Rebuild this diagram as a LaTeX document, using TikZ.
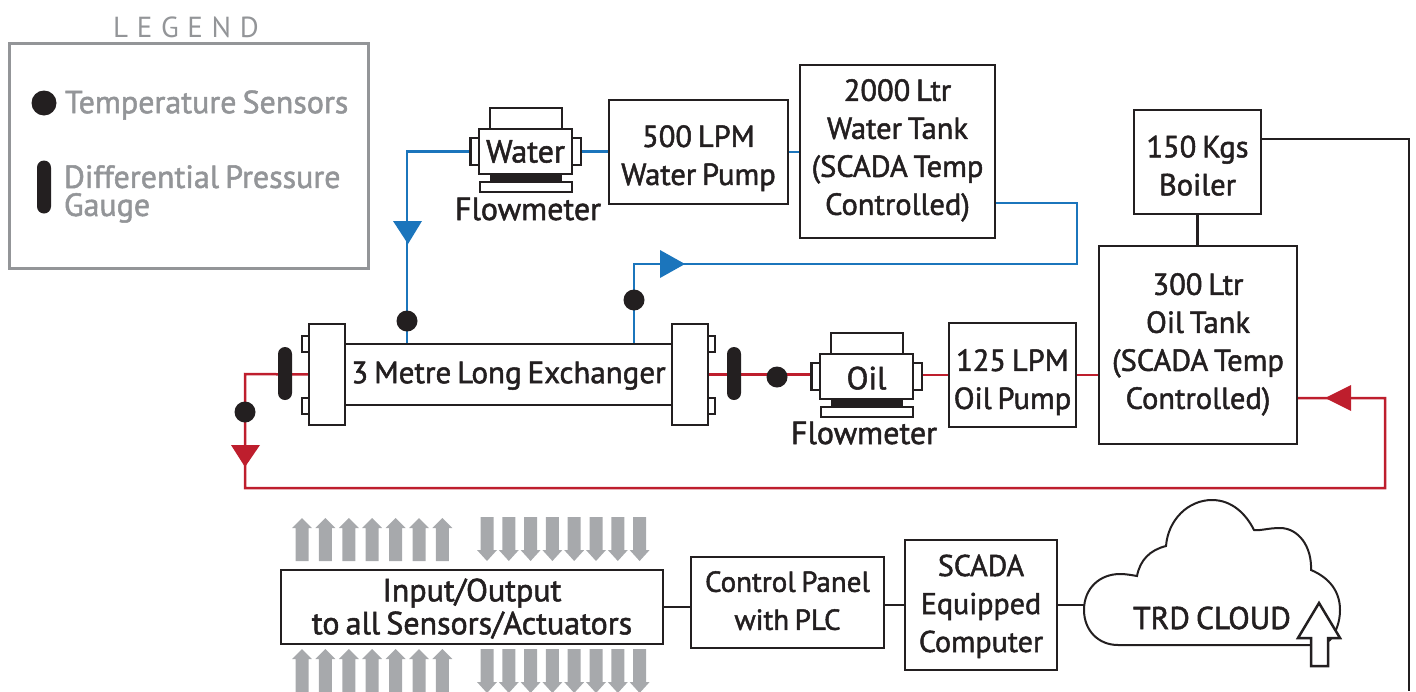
\documentclass[tikz,border=0pt]{standalone}
\usepackage{fontspec}
\setmainfont{PT Sans}[AutoFakeBold=1.6,WordSpace=0.72]
\newcommand{\tup}[1]{\rule{0pt}{#1pt}}
\newcommand{\tdn}[1]{\rule[-#1pt]{0pt}{0pt}}
\usetikzlibrary{backgrounds}
\definecolor{ink}{HTML}{231F20}
\definecolor{bluel}{HTML}{1B75BC}
\definecolor{redl}{HTML}{BE1E2D}
\definecolor{legendgrey}{HTML}{939598}
\definecolor{arrowgrey}{HTML}{A7A9AC}
\tikzset{
  x=1pt,y=-1pt,
  box/.style={draw=ink,line width=2.5pt,fill=white,inner sep=0pt,outer sep=0pt,align=center,text=ink,font=\fontsize{30.5}{38}\bfseries\selectfont},
  plain/.style={draw=ink,line width=2.5pt,fill=white,inner sep=0pt,outer sep=0pt},
  band/.style={fill=ink,inner sep=0pt,outer sep=0pt},
  dot/.style={circle,fill=ink,inner sep=0pt,outer sep=0pt,minimum size=#1},
  gauge/.style={fill=ink,inner sep=0pt,outer sep=0pt,rounded corners=7pt,minimum width=14pt,minimum height=53pt},
  lbl/.style={inner sep=0pt,outer sep=0pt,text=ink,font=\fontsize{32}{38}\bfseries\selectfont},
  legendtext/.style={inner sep=0pt,outer sep=0pt,anchor=west,align=left,text=legendgrey,font=\fontsize{32}{28}\bfseries\selectfont},
  blueline/.style={draw=bluel,line width=2.5pt},
  redline/.style={draw=redl,line width=2.5pt},
  inkline/.style={draw=ink,line width=2.5pt},
  uparrowg/.pic={\fill[arrowgrey] (-6.5,43)--(-6.5,10)--(-10,10)--(0,0)--(10,10)--(6.5,10)--(6.5,43)--cycle;},
  downarrowg/.pic={\fill[arrowgrey] (-6.5,0)--(-6.5,33)--(-10,33)--(0,44)--(10,33)--(6.5,33)--(6.5,0)--cycle;},
}
\begin{document}
\begin{tikzpicture}
\useasboundingbox (0,0) rectangle (1416,691);
% legend
\node[draw=legendgrey,line width=3pt,inner sep=0pt,outer sep=0pt,minimum width=359pt,minimum height=225pt] (legend) at (188.5,155.5) {};
\node[inner sep=0pt,text=legendgrey,font=\fontsize{29}{30}\selectfont\addfontfeature{LetterSpace=30}] (legendtitle) at (186,27) {LEGEND};
\node[dot=25pt] (ldot) at (44,103) {};
\node[legendtext] (ltemp) at (65,105) {Temperature Sensors};
\node[gauge] (lgauge) at (44,187) {};
\node[legendtext] (lgaugetext) at (64,194) {Differential Pressure\\Gauge};
% exchanger
\node[box,font=\fontsize{31}{38}\bfseries\selectfont,minimum width=327pt,minimum height=61pt] (exch) at (508.5,374.5) {\tup{24}3 Metre Long Exchanger};
\node[plain,minimum width=36pt,minimum height=101pt] (fl) at (327,374.5) {};
\node[plain,minimum width=36pt,minimum height=101pt] (fr) at (690,374.5) {};
\foreach \n/\px/\py in {lla/305.5/344,llb/305.5/406,lra/711.5/344,lrb/711.5/406}
  \node[plain,minimum width=7pt,minimum height=16pt] (\n) at (\px,\py) {};
\node[gauge] (gl) at (285,373.5) {};
\node[gauge] (gr) at (734,373.5) {};
\node[dot=21pt] (dt1) at (407,321) {};
\node[dot=21pt] (dt2) at (245,412) {};
\node[dot=21pt] (dt3) at (634,300) {};
\node[dot=21pt] (dt4) at (777,377) {};
% water flowmeter
\node[plain,minimum width=72pt,minimum height=21pt] (wtop) at (526,118.5) {};
\node[band,minimum width=72pt,minimum height=8pt] (wband) at (526,177.5) {};
\node[plain,minimum width=92pt,minimum height=10pt] (wbase) at (526,187) {};
\node[plain,minimum width=9pt,minimum height=27pt] (wll) at (475,151.5) {};
\node[plain,minimum width=9pt,minimum height=27pt] (wlr) at (576.5,151.5) {};
\node[box,font=\fontsize{32}{38}\bfseries\selectfont,minimum width=93pt,minimum height=45pt] (wbody) at (525.5,151.5) {Water};
\node[lbl] (wlabel) at (528,209) {Flowmeter};
% oil flowmeter
\node[plain,minimum width=72pt,minimum height=21pt] (otop) at (867,343.5) {};
\node[band,minimum width=72pt,minimum height=8pt] (oband) at (867,402.5) {};
\node[plain,minimum width=92pt,minimum height=10pt] (obase) at (867,412) {};
\node[plain,minimum width=9pt,minimum height=27pt] (oll) at (816,376.5) {};
\node[plain,minimum width=9pt,minimum height=27pt] (olr) at (917.5,376.5) {};
\node[box,font=\fontsize{32}{38}\bfseries\selectfont,minimum width=93pt,minimum height=45pt] (obody) at (866.5,376.5) {\tup{26}Oil};
\node[lbl] (olabel) at (864,433) {Flowmeter};
% equipment
\node[box,minimum width=179pt,minimum height=104pt] (wpump) at (698.5,152) {\tup{34}500 LPM\\Water Pump};
\node[box,minimum width=195pt,minimum height=173pt] (wtank) at (897.5,151.5) {2000 Ltr\\Water Tank\\(SCADA Temp\\Controlled)\tdn{9}};
\node[box,minimum width=127pt,minimum height=104pt] (boiler) at (1197.5,162) {\tup{29}150 Kgs\\Boiler};
\node[box,minimum width=198pt,minimum height=198pt] (otank) at (1198,345) {300 Ltr\\Oil Tank\\(SCADA Temp\\Controlled)\tdn{8}};
\node[box,minimum width=127pt,minimum height=104pt] (opump) at (1012.5,375) {\tup{36}125 LPM\\Oil Pump};
% bottom row
\node[box,font=\fontsize{32}{33}\bfseries\selectfont,minimum width=382pt,minimum height=74pt] (io) at (472,607) {\tup{26}Input/Output\\to all Sensors/Actuators};
\node[box,font=\fontsize{29}{38}\bfseries\selectfont,minimum width=193pt,minimum height=91pt] (ctrl) at (787.5,602.5) {Control Panel\\with PLC\tdn{4}};
\node[box,font=\fontsize{30}{38}\bfseries\selectfont,minimum width=152pt,minimum height=130pt] (scada) at (981,605) {\tup{24}SCADA\\Equipped\\Computer};
% cloud
\coordinate (cloudw) at (1084,606);
\draw[inkline,line width=2pt,fill=white] (1118,645)
  .. controls (1098,645) and (1084,630) .. (1084,610)
  .. controls (1084,588) and (1100,574) .. (1120,574)
  .. controls (1126,574) and (1131,575) .. (1137,576)
  .. controls (1140,560) and (1150,550) .. (1166,546)
  .. controls (1168,520) and (1188,500) .. (1212,500)
  .. controls (1232,500) and (1246,514) .. (1254,530)
  .. controls (1260,531) and (1268,528) .. (1280,528)
  .. controls (1298,528) and (1312,546) .. (1311,570)
  .. controls (1330,578) and (1340,592) .. (1340,610)
  .. controls (1340,622) and (1336,632) .. (1330,640)
  -- (1322,645) -- cycle;
\node[lbl,font=\fontsize{31.5}{38}\bfseries\selectfont] (trd) at (1212,618) {TRD CLOUD};
\draw[inkline,fill=white] (1319,603) -- (1340,638) -- (1328,638) -- (1328,666) -- (1311,666) -- (1311,638) -- (1298,638) -- cycle;
% grey arrows
\foreach \ax in {302,325.4,348.8,372.2,395.6,419,442.4} {
  \pic at (\ax,518) {uparrowg};
  \pic at (\ax,649) {uparrowg};
}
\foreach \ax in {487,508.8,530.6,552.4,574.2,596,617.8,639.6} {
  \pic at (\ax,517) {downarrowg};
  \pic at (\ax,649) {downarrowg};
}
% connector corners
\coordinate (tankout) at (995,203);
\coordinate (bc1) at (1077,203);
\coordinate (bc2) at (1077,264);
\coordinate (rc1) at (1385,488);
\coordinate (rc2) at (1385,398);
\coordinate (rc3) at (245,488);
\coordinate (rc4) at (245,374);
\coordinate (tankin) at (1297,398);
\coordinate (boilout) at (1261,139);
\coordinate (bk1) at (1409,139);
\coordinate (bk2) at (1409,691);
% triangles
\fill[bluel] (393,221) -- (422,221) -- (408,244) -- cycle;
\fill[bluel] (660,250) -- (660,278) -- (685,264) -- cycle;
\fill[redl] (231,445) -- (260,445) -- (245,467) -- cycle;
\fill[redl] (1351,385) -- (1351,411) -- (1325,398) -- cycle;
\begin{scope}[on background layer]
  \draw[blueline] (exch.north -| dt1) -- (wll.west -| dt1) -- (wll.west);
  \draw[blueline] (wlr.east) -- (wlr.east -| wpump.west);
  \draw[blueline] (wpump.east) -- (wpump.east -| wtank.west);
  \draw[blueline] (tankout) -- (bc1) -- (bc2) -- (bc2 -| dt3) -- (exch.north -| dt3);
  \draw[redline] (fl.west) -- (rc4) -- (rc3) -- (rc1) -- (rc2) -- (tankin);
  \draw[redline] (fr.east) -- (fr.east -| oll.west);
  \draw[redline] (opump.west -| olr.east) -- (opump.west);
  \draw[redline] (opump.east) -- (opump.east -| otank.west);
  \draw[inkline] (boiler.south) -- (boiler.south |- otank.north);
  \draw[inkline] (boilout) -- (bk1) -- (bk2);
  \draw[inkline] (io.east) -- (io.east -| ctrl.west);
  \draw[inkline] (scada.west) -- (scada.west -| ctrl.east);
  \draw[inkline] (scada.east) -- (scada.east -| cloudw);
\end{scope}
\end{tikzpicture}
\end{document}
